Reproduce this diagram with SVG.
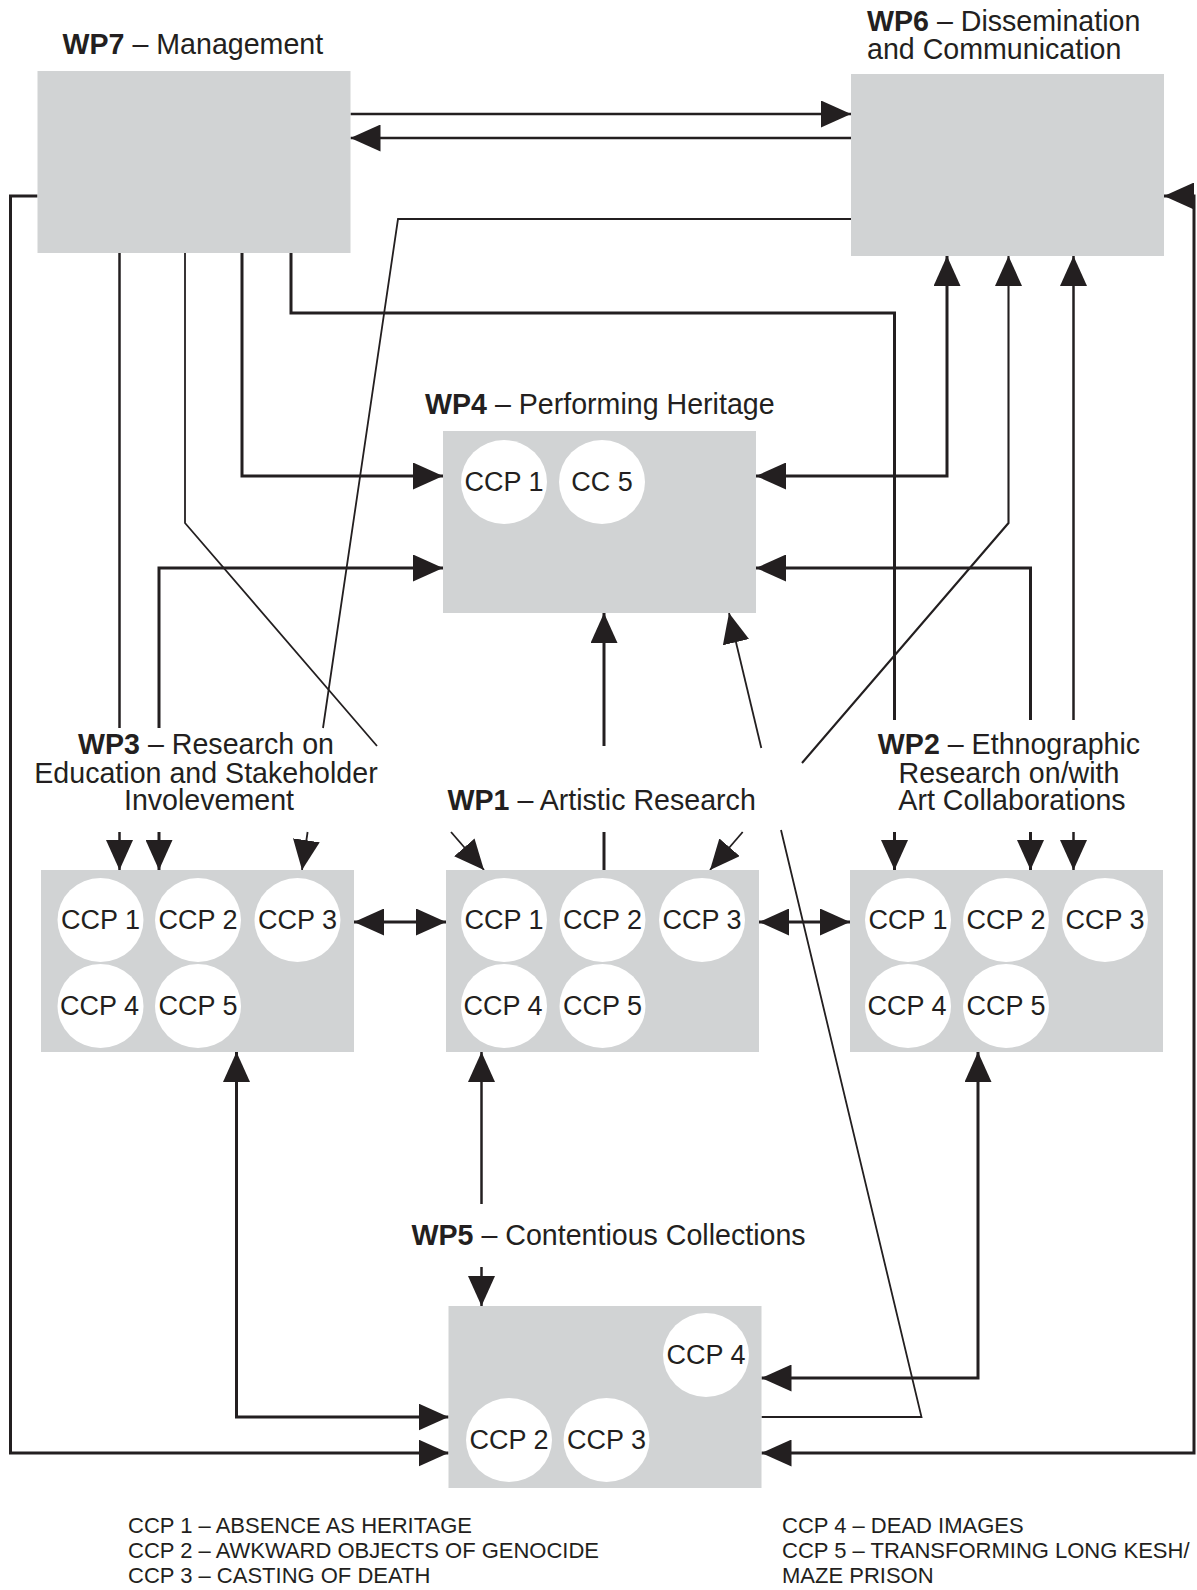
<svg xmlns="http://www.w3.org/2000/svg" width="1197" height="1590" viewBox="0 0 1197 1590">
<style>
  .box { fill: #d1d3d4; }
  .ccp { fill: #ffffff; }
  text { font-family: "Liberation Sans", Arial, Helvetica, sans-serif; fill: #231f20; }
  .lbl { font-size: 28.6px; }
  .b { font-weight: bold; }
  .ct { font-size: 27px; text-anchor: middle; }
  .leg { font-size: 22px; }
  .mid { text-anchor: middle; }
  .w3 { fill: none; stroke: #231f20; stroke-width: 3; }
  .w25 { fill: none; stroke: #231f20; stroke-width: 2.5; }
  .w2 { fill: none; stroke: #231f20; stroke-width: 2.1; }
  .w18 { fill: none; stroke: #231f20; stroke-width: 1.8; }
  .e { marker-end: url(#ah); }
  .s { marker-start: url(#ah); }
</style>
<defs>
  <marker id="ah" markerUnits="userSpaceOnUse" markerWidth="30" markerHeight="27" refX="30" refY="13.5" orient="auto-start-reverse" viewBox="0 0 30 27">
    <path d="M0,0 L30,13.5 L0,27 Z" fill="#231f20"/>
  </marker>
</defs>
<rect width="1197" height="1590" fill="#ffffff"/>

<g id="connectors">
  <path class="w25 e" d="M350.5,114 H851"/>
  <path class="w25 e" d="M851,138 H350.5"/>
  <path class="w3 e" d="M37.5,196 H10.5 V1453 H448.5"/>
  <path class="w3 s e" d="M761.5,1453 H1194 V196 H1164"/>
  <path class="w18" d="M851,219 H398 L323,728"/>
  <path class="w18 e" d="M307.6,832 L302,870"/>
  <path class="w25" d="M119.5,253 V728"/>
  <path class="w25 e" d="M119.5,832 V870"/>
  <path class="w18" d="M185,253 V523 L377,746"/>
  <path class="w18 e" d="M451,832 L484,870"/>
  <path class="w3 e" d="M242,253 V476 H443"/>
  <path class="w3" d="M291,253 V313 H894.5 V720"/>
  <path class="w3 e" d="M894.5,832 V870"/>
  <path class="w3 s e" d="M947,256 V476 H756"/>
  <path class="w2 s" d="M1008.5,256 V523 L802,763"/>
  <path class="w18 e" d="M742.7,832 L710,870"/>
  <path class="w25 s" d="M1073.5,256 V720"/>
  <path class="w25 e" d="M1073.5,832 V870"/>
  <path class="w3 e" d="M1030.5,720 V568 H756"/>
  <path class="w3 e" d="M1030.5,832 V870"/>
  <path class="w3 e" d="M159,728 V568 H443"/>
  <path class="w3 e" d="M159,832 V870"/>
  <path class="w3 e" d="M604,746 V613"/>
  <path class="w3" d="M604,832 V870"/>
  <path class="w18" d="M761.5,1417 H921.5 L781,830"/>
  <path class="w18 e" d="M761.3,748 L729,613"/>
  <path class="w3 s e" d="M354,922 H446"/>
  <path class="w3 s e" d="M759,922 H850"/>
  <path class="w3 s e" d="M236.5,1052 V1417 H448.5"/>
  <path class="w25 s" d="M481.5,1052 V1204"/>
  <path class="w25 e" d="M481.5,1267 V1306"/>
  <path class="w3 s e" d="M978,1052 V1378 H761.5"/>
</g>

<g id="wp7">
  <rect class="box" x="37.5" y="71" width="313" height="182"/>
  <text class="lbl" x="62.5" y="53.5"><tspan class="b">WP7</tspan> – Management</text>
</g>

<g id="wp6">
  <rect class="box" x="851" y="74" width="313" height="182"/>
  <text class="lbl"><tspan x="867" y="30.5"><tspan class="b">WP6</tspan> – Dissemination</tspan><tspan x="867" y="58.5">and Communication</tspan></text>
</g>

<g id="wp4">
  <rect class="box" x="443" y="431" width="313" height="182"/>
  <text class="lbl" x="425" y="414"><tspan class="b">WP4</tspan> – Performing Heritage</text>
  <ellipse class="ccp" cx="504" cy="482" rx="43" ry="42"/>
  <ellipse class="ccp" cx="602" cy="482" rx="43" ry="42"/>
  <text class="ct" x="504" y="491">CCP 1</text>
  <text class="ct" x="602" y="491">CC 5</text>
</g>

<g id="wp3">
  <rect class="box" x="41" y="870" width="313" height="182"/>
  <text class="lbl mid"><tspan x="206" y="754"><tspan class="b">WP3</tspan> – Research on</tspan><tspan x="206" y="782.5">Education and Stakeholder</tspan><tspan x="209" y="810">Involevement</tspan></text>
  <ellipse class="ccp" cx="100.5" cy="920" rx="43" ry="42"/>
  <ellipse class="ccp" cx="198" cy="920" rx="43" ry="42"/>
  <ellipse class="ccp" cx="297.5" cy="920" rx="43" ry="42"/>
  <ellipse class="ccp" cx="100.5" cy="1006" rx="43" ry="42"/>
  <ellipse class="ccp" cx="198" cy="1006" rx="43" ry="42"/>
  <text class="ct" x="100.5" y="929">CCP 1</text>
  <text class="ct" x="198" y="929">CCP 2</text>
  <text class="ct" x="297.5" y="929">CCP 3</text>
  <text class="ct" x="99.5" y="1015">CCP 4</text>
  <text class="ct" x="198" y="1015">CCP 5</text>
</g>

<g id="wp1">
  <rect class="box" x="446" y="870" width="313" height="182"/>
  <text class="lbl" x="447.5" y="810"><tspan class="b">WP1</tspan> – Artistic Research</text>
  <ellipse class="ccp" cx="504" cy="920" rx="43" ry="42"/>
  <ellipse class="ccp" cx="602.5" cy="920" rx="43" ry="42"/>
  <ellipse class="ccp" cx="702" cy="920" rx="43" ry="42"/>
  <ellipse class="ccp" cx="504" cy="1006" rx="43" ry="42"/>
  <ellipse class="ccp" cx="602.5" cy="1006" rx="43" ry="42"/>
  <text class="ct" x="504" y="929">CCP 1</text>
  <text class="ct" x="602.5" y="929">CCP 2</text>
  <text class="ct" x="702" y="929">CCP 3</text>
  <text class="ct" x="503" y="1015">CCP 4</text>
  <text class="ct" x="602.5" y="1015">CCP 5</text>
</g>

<g id="wp2">
  <rect class="box" x="850" y="870" width="313" height="182"/>
  <text class="lbl mid"><tspan x="1009" y="754"><tspan class="b">WP2</tspan> – Ethnographic</tspan><tspan x="1009" y="782.5">Research on/with</tspan><tspan x="1012" y="810">Art Collaborations</tspan></text>
  <ellipse class="ccp" cx="908" cy="920" rx="43" ry="42"/>
  <ellipse class="ccp" cx="1006" cy="920" rx="43" ry="42"/>
  <ellipse class="ccp" cx="1105" cy="920" rx="43" ry="42"/>
  <ellipse class="ccp" cx="908" cy="1006" rx="43" ry="42"/>
  <ellipse class="ccp" cx="1006" cy="1006" rx="43" ry="42"/>
  <text class="ct" x="908" y="929">CCP 1</text>
  <text class="ct" x="1006" y="929">CCP 2</text>
  <text class="ct" x="1105" y="929">CCP 3</text>
  <text class="ct" x="907" y="1015">CCP 4</text>
  <text class="ct" x="1006" y="1015">CCP 5</text>
</g>

<g id="wp5">
  <rect class="box" x="448.5" y="1306" width="313" height="182"/>
  <text class="lbl" x="411.5" y="1245"><tspan class="b">WP5</tspan> – Contentious Collections</text>
  <ellipse class="ccp" cx="706" cy="1355" rx="43" ry="42"/>
  <ellipse class="ccp" cx="509" cy="1440" rx="43" ry="42"/>
  <ellipse class="ccp" cx="606.5" cy="1440" rx="43" ry="42"/>
  <text class="ct" x="706" y="1364">CCP 4</text>
  <text class="ct" x="509" y="1449">CCP 2</text>
  <text class="ct" x="606.5" y="1449">CCP 3</text>
</g>

<g id="legend">
  <text class="leg"><tspan x="128" y="1533">CCP 1 – ABSENCE AS HERITAGE</tspan><tspan x="128" y="1558">CCP 2 – AWKWARD OBJECTS OF GENOCIDE</tspan><tspan x="128" y="1583">CCP 3 – CASTING OF DEATH</tspan></text>
  <text class="leg"><tspan x="782" y="1533">CCP 4 – DEAD IMAGES</tspan><tspan x="782" y="1558">CCP 5 – TRANSFORMING LONG KESH/</tspan><tspan x="782" y="1583">MAZE PRISON</tspan></text>
</g>
</svg>
